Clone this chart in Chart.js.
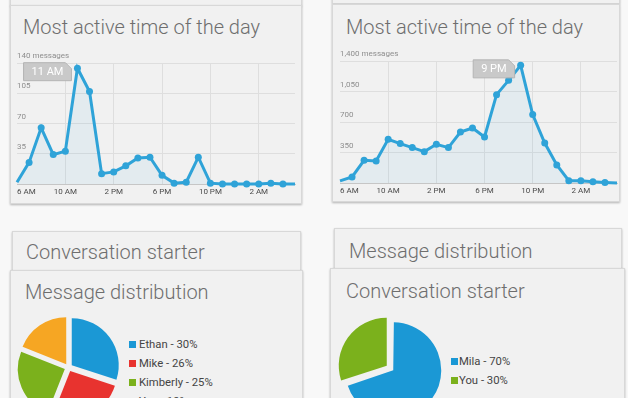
<!DOCTYPE html>
<html><head><meta charset="utf-8">
<script src="https://cdn.jsdelivr.net/npm/chart.js@4.4.0/dist/chart.umd.min.js"></script>
<style>
html,body{margin:0;padding:0;width:628px;height:398px;overflow:hidden;background:#f8f8f8;font-family:Roboto,"Noto Sans",sans-serif;}
.card{position:absolute;background:#f1f1f1;border:1px solid #d8d8d8;box-shadow:0 1px 2px rgba(0,0,0,.28);box-sizing:border-box;}
.title{position:absolute;font-weight:300;font-size:20px;line-height:20px;color:#6e6e6e;white-space:nowrap;}
canvas{position:absolute;}
.leg{position:absolute;font-size:11.3px;color:#444;line-height:19px;height:19px;white-space:nowrap;}
.sw{position:absolute;width:7px;height:7px;}
</style></head>
<body>
<div class="card" style="left:10px;top:-40px;width:292px;height:46px"></div>
<div class="card" style="left:10px;top:5px;width:292px;height:199px"></div>
<div class="card" style="left:332px;top:-40px;width:288px;height:44px"></div>
<div class="card" style="left:332px;top:4px;width:288px;height:198px"></div>
<div class="card" style="left:12px;top:231px;width:289px;height:60px"></div>
<div class="card" style="left:10px;top:270px;width:293px;height:140px"></div>
<div class="card" style="left:334px;top:228px;width:288px;height:60px"></div>
<div class="card" style="left:330px;top:268px;width:295px;height:140px"></div>

<div class="title" style="left:23px;top:17.4px">Most active time of the day</div>
<div class="title" style="left:346px;top:16.7px">Most active time of the day</div>
<div class="title" style="left:26px;top:242.4px">Conversation starter</div>
<div class="title" style="left:25px;top:282.4px">Message distribution</div>
<div class="title" style="left:349px;top:240.7px">Message distribution</div>
<div class="title" style="left:346px;top:281.4px">Conversation starter</div>

<canvas id="lineL" width="290" height="152" style="left:12px;top:50px"></canvas>
<canvas id="lineR" width="286" height="153" style="left:334px;top:48px"></canvas>
<canvas id="pieL" width="119" height="119" style="left:9px;top:308px"></canvas>
<canvas id="pieR" width="120" height="120" style="left:330px;top:308px"></canvas>
<div id="legL"></div>
<div id="legR"></div>

<script>
// ---- data ----
const hours = ['6 AM','7 AM','8 AM','9 AM','10 AM','11 AM','12 PM','1 PM','2 PM','3 PM','4 PM','5 PM',
               '6 PM','7 PM','8 PM','9 PM','10 PM','11 PM','12 AM','1 AM','2 AM','3 AM','4 AM','5 AM'];
const messagesLeft  = [2,25,65,34,38,134,107,12,14,21,30,31,10,1,2,31,1,0,0,0,0,1,0,0];
const messagesRight = [25,70,260,252,501,452,406,360,444,406,585,631,528,1014,1178,1350,785,459,207,27,27,14,7,0];
const distNames  = ['Ethan','Mike','Kimberly','You'];
const distValues = [30,26,25,19];
const starterNames  = ['Mila','You'];
const starterValues = [70,30];

const BLUE_LINE = '#2fa3d8';
const PIE_BLUE = '#1b98d5', PIE_RED = '#e8332f', PIE_GREEN = '#7bb11c', PIE_ORANGE = '#f6a623';
const distColors = [PIE_BLUE, PIE_RED, PIE_GREEN, PIE_ORANGE];
const starterColors = [PIE_BLUE, PIE_GREEN];

const tagPlugin = {
  id: 'peakTag',
  afterDatasetsDraw(chart) {
    const d = chart.data.datasets[0].data;
    let mi = 0; d.forEach((v, i) => { if (v > d[mi]) mi = i; });
    const x = chart.scales.x.getPixelForValue(mi);
    const y = chart.scales.y.getPixelForValue(d[mi]);
    const ctx = chart.ctx;
    ctx.save();
    ctx.font = '11px Roboto';
    const text = chart.data.labels[mi];
    const tw = ctx.measureText(text).width;
    const R = x - 6, T = y - 5.5, B = y + 12.5, L = R - tw - 16;
    ctx.beginPath();
    ctx.moveTo(L, T); ctx.lineTo(R - 6, T); ctx.lineTo(R, T + 6); ctx.lineTo(R, B); ctx.lineTo(L, B); ctx.closePath();
    ctx.fillStyle = '#c9c9c9'; ctx.fill();
    ctx.strokeStyle = '#b4b4b4'; ctx.lineWidth = 1; ctx.stroke();
    ctx.fillStyle = '#ffffff'; ctx.textAlign = 'center'; ctx.textBaseline = 'middle';
    ctx.fillText(text, (L + R) / 2, (T + B) / 2 + 0.5);
    ctx.restore();
  }
};

function lineChart(id, data, max, step, pad) {
  return new Chart(document.getElementById(id), {
    type: 'line',
    data: { labels: hours, datasets: [{
      data, borderColor: BLUE_LINE, borderWidth: 3, tension: 0,
      backgroundColor: 'rgba(60,170,220,0.08)', fill: 'origin',
      pointRadius: c => (c.dataIndex === 0 || c.dataIndex === data.length - 1) ? 0 : 3.5,
      pointBackgroundColor: BLUE_LINE, pointBorderWidth: 0, clip: false
    }]},
    options: {
      responsive: false, animation: false, events: [],
      layout: { padding: pad },
      plugins: { legend: { display: false }, tooltip: { enabled: false } },
      scales: {
        x: {
          grid: { drawTicks: false, color: c => (c.index % 4 === 0 && c.index > 0) ? '#dedede' : 'rgba(0,0,0,0)' },
          border: { display: true, color: '#c6c6c6' },
          ticks: { autoSkip: false, maxRotation: 0, padding: 3, align: 'inner', color: '#4a4a4a',
                   font: { size: 8, family: 'Roboto' },
                   callback: (v, i) => i % 4 === 0 ? hours[i] : '' },
          afterFit: s => { s.height = 18; }
        },
        y: {
          min: 0, max,
          grid: { drawTicks: false, color: c => c.tick.value === 0 ? 'rgba(0,0,0,0)' : '#dedede' },
          border: { display: false },
          ticks: { stepSize: step, mirror: true, padding: 0, labelOffset: -7, color: '#8e8e8e',
                   font: { size: 8, family: 'Roboto' },
                   callback: v => v === 0 ? '' : (v === max ? v.toLocaleString('en-US') + ' messages' : v.toLocaleString('en-US')) },
          afterFit: s => { s.width = 0; }
        }
      }
    },
    plugins: [tagPlugin]
  });
}

lineChart('lineL', messagesLeft, 140, 35, { left: 5, right: 7, top: 13, bottom: 0 });
lineChart('lineR', messagesRight, 1400, 350, { left: 6, right: 2, top: 13, bottom: 0 });

// keep every exploded slice at the same outer radius (Chart.js enlarges slices wider than 180°)
const evenRadiusPlugin = {
  id: 'evenRadius',
  afterDatasetUpdate(chart, args) {
    const meta = args.meta;
    meta.data.forEach(arc => {
      const off = (arc.options.offset || 0) / 4;
      const fix = 1 - Math.sin(Math.min(Math.PI, arc.circumference || 0));
      arc.outerRadius = arc.outerRadius - off * fix;
    });
  }
};

function pieChart(id, names, values, colors, radius) {
  return new Chart(document.getElementById(id), {
    type: 'pie',
    data: { labels: names, datasets: [{ data: values, backgroundColor: colors, borderWidth: 0, offset: 16, radius }] },
    options: { responsive: false, animation: false, events: [], radius,
      plugins: { legend: { display: false }, tooltip: { enabled: false } } },
    plugins: [evenRadiusPlugin]
  });
}
pieChart('pieL', distNames, distValues, distColors, 47);
pieChart('pieR', starterNames, starterValues, starterColors, 48);

function legend(id, names, values, colors, swX, textX, y0) {
  const el = document.getElementById(id);
  names.forEach((n, i) => {
    const cy = y0 + i * 19;
    const sw = document.createElement('div');
    sw.className = 'sw'; sw.style.left = swX + 'px'; sw.style.top = (cy - 3.5) + 'px'; sw.style.background = colors[i];
    const t = document.createElement('div');
    t.className = 'leg'; t.style.left = textX + 'px'; t.style.top = (cy - 9.5) + 'px';
    t.textContent = n + ' - ' + values[i] + '%';
    el.appendChild(sw); el.appendChild(t);
  });
}
legend('legL', distNames, distValues, distColors, 129, 139, 344.3);
legend('legR', starterNames, starterValues, starterColors, 451, 459, 361);
</script>
</body></html>
